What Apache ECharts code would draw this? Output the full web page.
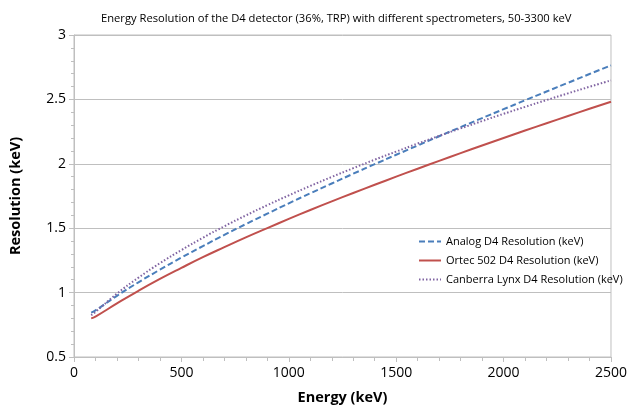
<!DOCTYPE html>
<html>
<head>
<meta charset="utf-8">
<script src="https://cdn.jsdelivr.net/npm/echarts@6/dist/echarts.min.js"></script>
<style>
html,body{margin:0;padding:0;background:#fff;}
#chart{width:630px;height:410px;}
</style>
</head>
<body>
<div id="chart"></div>
<script>
const energies = [80,100,200,300,400,500,600,700,800,900,1000,1100,1200,1300,1400,1500,1600,1700,1800,1900,2000,2100,2200,2300,2400,2500];
const analog = [0.845,0.862,0.975,1.080,1.178,1.272,1.361,1.448,1.532,1.613,1.693,1.771,1.847,1.923,1.997,2.070,2.142,2.214,2.285,2.355,2.424,2.493,2.561,2.629,2.697,2.764];
const ortec = [0.800,0.814,0.916,1.014,1.106,1.192,1.275,1.353,1.429,1.501,1.572,1.641,1.708,1.773,1.837,1.900,1.962,2.023,2.083,2.142,2.200,2.258,2.315,2.371,2.427,2.482];
const lynx = [0.825,0.850,0.992,1.116,1.228,1.330,1.426,1.515,1.599,1.679,1.755,1.828,1.898,1.966,2.032,2.095,2.157,2.217,2.275,2.332,2.388,2.442,2.495,2.547,2.598,2.648];
const seriesNames = ['Analog D4 Resolution (keV)','Ortec 502 D4 Resolution (keV)','Canberra Lynx D4 Resolution (keV)'];
const titleText = 'Energy Resolution of the D4 detector (36%, TRP) with different spectrometers, 50-3300 keV';

const pairs = vals => energies.map((e,i)=>[e, vals[i]]);
const font = '"Open Sans", "Liberation Sans", sans-serif';
const chart = echarts.init(document.getElementById('chart'), null, {renderer:'canvas'});
chart.setOption({
  animation:false,
  backgroundColor:'#fff',
  title:{text:titleText,left:96,top:8,textStyle:{fontFamily:font,fontSize:11.2,fontWeight:'normal',color:'#000'}},
  grid:{left:73,right:15,top:35,bottom:50,show:true,borderColor:'#bfbfbf',borderWidth:1},
  legend:{
    orient:'vertical',left:413,top:231,itemGap:8,itemWidth:22,itemHeight:12,
    itemStyle:{opacity:0},
    textStyle:{fontFamily:font,fontSize:11,color:'#000'},
    data:seriesNames
  },
  xAxis:{
    type:'value',min:0,max:2500,interval:500,
    name:'Energy (keV)',nameLocation:'middle',nameGap:33,
    nameTextStyle:{fontFamily:font,fontSize:14.5,fontWeight:'bold',color:'#000'},
    axisLine:{lineStyle:{color:'#bfbfbf'}},
    axisTick:{show:true,length:5,lineStyle:{color:'#bfbfbf'}},
    minorTick:{show:true,splitNumber:5,length:4,lineStyle:{color:'#bfbfbf'}},
    splitLine:{show:false},
    axisLabel:{fontFamily:font,fontSize:14,color:'#000',margin:9,formatter:v=>String(v)}
  },
  yAxis:{
    type:'value',min:0.5,max:3,interval:0.5,
    name:'Resolution (keV)',nameLocation:'middle',nameGap:51,
    nameTextStyle:{fontFamily:font,fontSize:14.5,fontWeight:'bold',color:'#000'},
    axisLine:{show:true,lineStyle:{color:'#bfbfbf'}},
    axisTick:{show:true,length:5,lineStyle:{color:'#bfbfbf'}},
    minorTick:{show:true,splitNumber:5,length:3,lineStyle:{color:'#bfbfbf'}},
    splitLine:{show:true,lineStyle:{color:'#bfbfbf',width:1}},
    axisLabel:{fontFamily:font,fontSize:14,color:'#000',margin:8}
  },
  series:[
    {name:seriesNames[0],type:'line',data:pairs(analog),symbol:'none',smooth:true,
     lineStyle:{color:'#4a7ebb',width:2,type:[6,3]},itemStyle:{color:'#4a7ebb'}},
    {name:seriesNames[1],type:'line',data:pairs(ortec),symbol:'none',smooth:true,
     lineStyle:{color:'#c0504d',width:2,type:'solid'},itemStyle:{color:'#c0504d'}},
    {name:seriesNames[2],type:'line',data:pairs(lynx),symbol:'none',smooth:true,
     lineStyle:{color:'#8064a2',width:2,type:[1.5,2]},itemStyle:{color:'#8064a2'}}
  ]
});
</script>
</body>
</html>
